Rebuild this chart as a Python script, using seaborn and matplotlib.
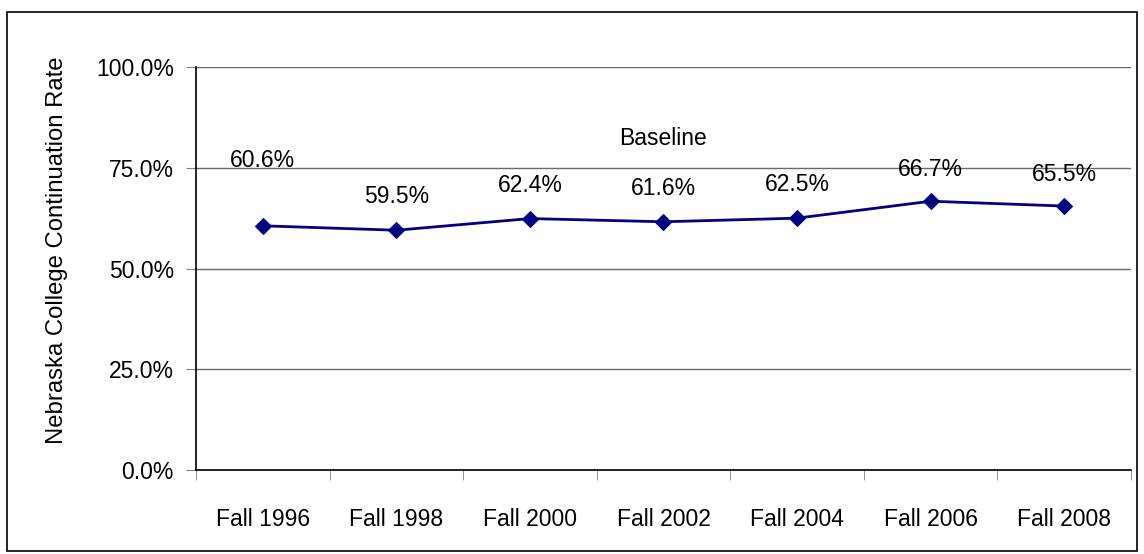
"""
Nebraska college continuation rate, Fall 1996 to Fall 2008 (baseline line chart)
"""

import matplotlib.pyplot as plt
import matplotlib.patches as mpatches
import pandas as pd
import seaborn as sns

terms = ['Fall 1996', 'Fall 1998', 'Fall 2000', 'Fall 2002',
         'Fall 2004', 'Fall 2006', 'Fall 2008']
rates = [60.6, 59.5, 62.4, 61.6, 62.5, 66.7, 65.5]
yticks = [0, 25, 50, 75, 100]


def main():
    sns.set_style('white')
    plt.rcParams['font.family'] = ['Liberation Sans', 'DejaVu Sans']
    plt.rcParams['text.color'] = 'black'
    plt.rcParams['axes.labelcolor'] = 'black'
    plt.rcParams['xtick.color'] = 'black'
    plt.rcParams['ytick.color'] = 'black'
    df = pd.DataFrame({'term': terms, 'rate': rates})
    df['pos'] = range(len(df))

    fs = 16.5
    fig = plt.figure(figsize=(11.44, 5.54), dpi=100)
    ax = fig.add_axes([0.1713, 0.1516, 0.8173, 0.7274])

    # outer frame round the whole chart
    fig.patches.append(mpatches.Rectangle(
        (0.0065, 0.005), 0.9875, 0.973, transform=fig.transFigure,
        fill=False, edgecolor='black', linewidth=1.2))

    sns.lineplot(data=df, x='pos', y='rate', ax=ax, color='#000080',
                 marker='D', markersize=8, linewidth=2,
                 markeredgecolor='#000080')

    # data labels, first one sits higher like in the original
    offsets = [47, 24, 24, 24, 24, 23, 23]
    for (i, r), off in zip(enumerate(rates), offsets):
        ax.annotate(f'{r:.1f}%', (i, r), xytext=(0, off),
                    textcoords='offset points', ha='center', va='center',
                    fontsize=fs)
    ax.text(3, 82.2, 'Baseline', ha='center', va='center', fontsize=fs)

    ax.set_xlim(-0.5, len(terms) - 0.5)
    ax.set_ylim(0, 100)
    ax.set_yticks(yticks)
    ax.set_yticklabels([f'{t:.1f}%' for t in yticks], fontsize=fs)
    ax.yaxis.grid(True, color='#6a6a6a', linewidth=1)
    ax.set_axisbelow(True)

    ax.set_xticks(range(len(terms)))
    ax.set_xticklabels(terms, fontsize=fs)
    ax.tick_params(axis='x', length=0, pad=27)
    # tick marks between categories
    ax.set_xticks([i - 0.5 for i in range(len(terms) + 1)], minor=True)
    ax.tick_params(axis='x', which='minor', length=7, color='#808080',
                   direction='out', bottom=True)
    ax.tick_params(axis='y', length=7, color='#808080', left=True, pad=9)

    ax.set_xlabel('')
    ax.set_ylabel('Nebraska College Continuation Rate', fontsize=17.2)
    ax.yaxis.set_label_coords(-0.137, 0.546)

    for s in ['top', 'right']:
        ax.spines[s].set_visible(False)
    for s in ['left', 'bottom']:
        ax.spines[s].set_color('black')
        ax.spines[s].set_linewidth(1.2)

    fig.savefig('out.png', dpi=100)


main()
